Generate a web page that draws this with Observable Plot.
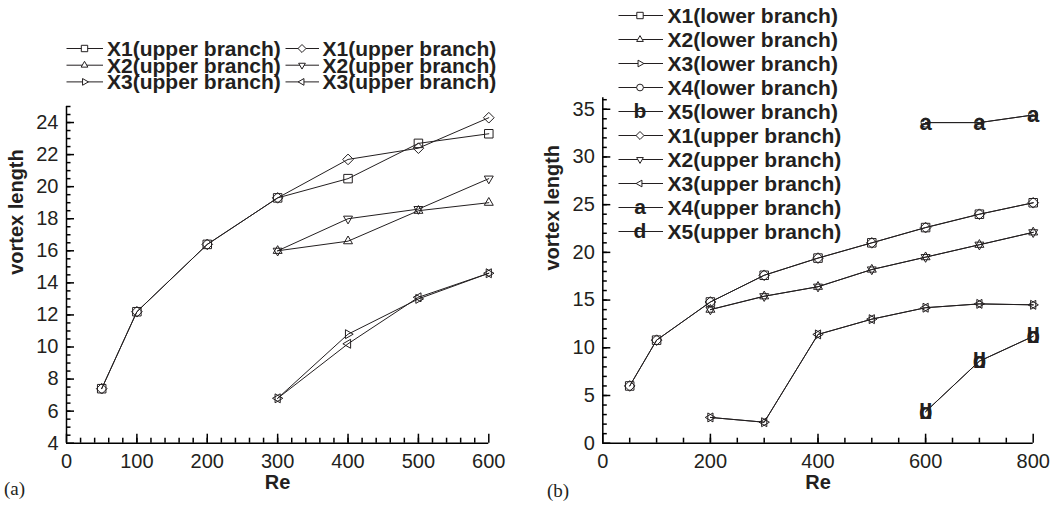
<!DOCTYPE html>
<html>
<head>
<meta charset="utf-8">
<script src="https://cdn.jsdelivr.net/npm/d3@7"></script>
<script src="https://cdn.jsdelivr.net/npm/@observablehq/plot@0.6"></script>
<style>
  body { margin: 0; background: #fff; }
  #fig { position: relative; width: 1061px; height: 506px; overflow: hidden;
         font-family: "Liberation Sans", Arial, Helvetica, sans-serif; color: #231f20; }
  .panel { position: absolute; top: 0; }
  .tag { position: absolute; font-family: "Liberation Serif", "Times New Roman", serif;
         font-size: 19px; line-height: 1; }
  #legend { position: absolute; left: 0; top: 0; pointer-events: none; }
</style>
</head>
<body>
<div id="fig"></div>
<script>
// ---- Panel (a): vortex length vs Re, Re = 50..600 ----
const reA  = [50, 100, 200, 300, 400, 500, 600];
const reA2 = [300, 400, 500, 600];
const aX1square  = [7.4, 12.2, 16.4, 19.3, 20.5, 22.7, 23.3];
const aX1diamond = [7.4, 12.2, 16.4, 19.3, 21.7, 22.4, 24.3];
const aX2up      = [16.0, 16.6, 18.5, 19.0];
const aX2down    = [16.0, 18.0, 18.6, 20.5];
const aX3right   = [6.8, 10.8, 13.0, 14.6];
const aX3left    = [6.8, 10.2, 13.1, 14.6];
const xTicksA = [0, 100, 200, 300, 400, 500, 600];
const yTicksA = [4, 6, 8, 10, 12, 14, 16, 18, 20, 22, 24];

// ---- Panel (b): vortex length vs Re, Re = 50..800 ----
const reB1 = [50, 100, 200, 300, 400, 500, 600, 700, 800];
const reB2 = [200, 300, 400, 500, 600, 700, 800];
const reB4 = [600, 700, 800];
const bX1lower = [6.0, 10.8, 14.8, 17.6, 19.4, 21.0, 22.6, 24.0, 25.2];
const bX1upper = [6.0, 10.8, 14.8, 17.6, 19.4, 21.0, 22.6, 24.0, 25.2];
const bX2lower = [14.0, 15.4, 16.4, 18.2, 19.5, 20.8, 22.1];
const bX2upper = [14.0, 15.4, 16.4, 18.2, 19.5, 20.8, 22.1];
const bX3lower = [2.7, 2.2, 11.4, 13.0, 14.2, 14.6, 14.5];
const bX3upper = [2.7, 2.2, 11.4, 13.0, 14.2, 14.6, 14.5];
const bX4lower = [33.6, 33.6, 34.4];
const bX4upper = [33.6, 33.6, 34.4];
const bX5lower = [3.3, 8.6, 11.2];
const bX5upper = [3.3, 8.6, 11.2];
const xTicksB = [0, 200, 400, 600, 800];
const yTicksB = [0, 5, 10, 15, 20, 25, 30, 35];

// Open triangle pointing in a given direction (degrees, 0 = up)
function triangle(angle) {
  const a = angle * Math.PI / 180;
  return {
    draw(ctx, size) {
      const R = Math.sqrt(size / Math.PI) * 1.1;
      for (let i = 0; i < 3; i++) {
        const t = a + i * 2 * Math.PI / 3;
        const px = R * Math.sin(t), py = -R * Math.cos(t);
        i ? ctx.lineTo(px, py) : ctx.moveTo(px, py);
      }
      ctx.closePath();
    }
  };
}
const triUp = triangle(0), triRight = triangle(90), triDown = triangle(180), triLeft = triangle(270);

const rows = (xs, ys) => xs.map((x, i) => ({x, y: ys[i]}));

const seriesA = [
  {label: "X1(upper branch)", re: reA,  v: aX1square,  symbol: "square",   r: 4.8},
  {label: "X2(upper branch)", re: reA2, v: aX2up,      symbol: triUp,      r: 4.7},
  {label: "X3(upper branch)", re: reA2, v: aX3right,   symbol: triRight,   r: 4.7},
  {label: "X1(upper branch)", re: reA,  v: aX1diamond, symbol: "diamond2", r: 4.8},
  {label: "X2(upper branch)", re: reA2, v: aX2down,    symbol: triDown,    r: 4.7},
  {label: "X3(upper branch)", re: reA2, v: aX3left,    symbol: triLeft,    r: 4.7}
];
const seriesB = [
  {label: "X1(lower branch)", re: reB1, v: bX1lower, symbol: "square",   r: 4.8},
  {label: "X2(lower branch)", re: reB2, v: bX2lower, symbol: triUp,      r: 4.7},
  {label: "X3(lower branch)", re: reB2, v: bX3lower, symbol: triRight,   r: 4.7},
  {label: "X4(lower branch)", re: reB4, v: bX4lower, symbol: "circle",   r: 4.5},
  {label: "X5(lower branch)", re: reB4, v: bX5lower, letter: "b"},
  {label: "X1(upper branch)", re: reB1, v: bX1upper, symbol: "diamond2", r: 4.8},
  {label: "X2(upper branch)", re: reB2, v: bX2upper, symbol: triDown,    r: 4.7},
  {label: "X3(upper branch)", re: reB2, v: bX3upper, symbol: triLeft,    r: 4.7},
  {label: "X4(upper branch)", re: reB4, v: bX4upper, letter: "a"},
  {label: "X5(upper branch)", re: reB4, v: bX5upper, letter: "d"}
];

const INK = "#231f20";
const FONT = "'Liberation Sans', Arial, Helvetica, sans-serif";

function seriesMarks(series) {
  const lines = series.map(s => Plot.line(rows(s.re, s.v), {x: "x", y: "y", stroke: INK, strokeWidth: 1}));
  const pts = series.map(s => s.letter
    ? Plot.text(rows(s.re, s.v), {x: "x", y: "y", text: () => s.letter, fontWeight: "bold", fontSize: 22, fill: INK})
    : Plot.dot(rows(s.re, s.v), {x: "x", y: "y", symbol: s.symbol, r: s.r, fill: "none", stroke: INK, strokeWidth: 1}));
  return [...lines, ...pts];
}

// Tecplot-style frame: left and bottom axis lines; Plot's own axis ticks,
// given a negative size so that they point into the plot area
function axesMarks(xTicks, xMinor, yTicks, yMinor, x0, y0) {
  return [
    Plot.axisX({ticks: xTicks, tickSize: -9, tickPadding: 20, label: null, fontSize: 20, strokeWidth: 1.5, stroke: "#000"}),
    Plot.axisX({ticks: xMinor, tickSize: -5, tickFormat: () => "", label: null, strokeWidth: 1.5, stroke: "#000"}),
    Plot.axisY({ticks: yTicks, tickSize: -8, tickPadding: 16, label: null, fontSize: 20, strokeWidth: 1.5, stroke: "#000"}),
    Plot.axisY({ticks: yMinor, tickSize: -4.5, tickFormat: () => "", label: null, strokeWidth: 1.5, stroke: "#000"}),
    Plot.ruleX([x0], {stroke: "#000", strokeWidth: 1.5}),
    Plot.ruleY([y0], {stroke: "#000", strokeWidth: 1.5})
  ];
}

function titles() {
  return [
    Plot.text(["Re"], {text: d => d, frameAnchor: "bottom", dy: 45.5, fontSize: 20, fontWeight: "bold", fill: INK}),
    Plot.text(["vortex length"], {text: d => d, frameAnchor: "left", rotate: -90, dx: -50, fontSize: 20, fontWeight: "bold", fill: INK})
  ];
}

const style = {fontFamily: FONT, fontSize: "20px", color: INK, background: "transparent", overflow: "visible"};

const plotA = Plot.plot({
  width: 530, height: 506,
  marginLeft: 66, marginRight: 41.7, marginTop: 106, marginBottom: 63.3,
  x: {domain: [0, 600], label: null},
  y: {domain: [4, 25], label: null},
  style,
  marks: [
    ...axesMarks(xTicksA, d3.range(20, 600, 20), yTicksA, d3.range(4.5, 25.01, 0.5), 0, 4),
    ...titles(),
    ...seriesMarks(seriesA)
  ]
});

const plotB = Plot.plot({
  width: 531, height: 506,
  marginLeft: 72.3, marginRight: 28.3, marginTop: 97.3, marginBottom: 63.3,
  x: {domain: [0, 800], label: null},
  y: {domain: [0, 36.2], label: null},
  style,
  marks: [
    ...axesMarks(xTicksB, d3.range(50, 800, 50), yTicksB, d3.range(1, 36.01, 1), 0, 0),
    ...titles(),
    ...seriesMarks(seriesB)
  ]
});

const fig = document.getElementById("fig");
plotA.classList.add("panel"); plotA.style.left = "0px";
plotB.classList.add("panel"); plotB.style.left = "530px";
fig.append(plotA, plotB);

// Panel tags
for (const [t, x, y] of [["(a)", 4, 479], ["(b)", 547, 481]]) {
  const d = document.createElement("div");
  d.className = "tag"; d.textContent = t;
  d.style.left = x + "px"; d.style.top = y + "px";
  fig.append(d);
}

// Legends: line sample + marker + label (kept in a separate layer that has no background)
const svg = d3.select(fig).append("svg").attr("id", "legend").attr("width", 1061).attr("height", 506)
  .style("background", "none");
function legendItem(s, x0, x1, xm, xt, y) {
  const g = svg.append("g");
  g.append("line").attr("x1", x0).attr("x2", x1).attr("y1", y).attr("y2", y)
    .attr("stroke", INK).attr("stroke-width", 1);
  if (s.letter) {
    g.append("text").attr("x", xm).attr("y", y + 6).attr("text-anchor", "middle")
      .attr("font-family", FONT).attr("font-weight", "bold").attr("font-size", 21)
      .attr("fill", INK).text(s.letter);
  } else {
    const type = typeof s.symbol === "string"
      ? {square: d3.symbolSquare, diamond2: d3.symbolDiamond2, circle: d3.symbolCircle}[s.symbol]
      : s.symbol;
    const rr = s.r * 0.75;
    g.append("path").attr("transform", `translate(${xm},${y})`)
      .attr("d", d3.symbol(type, Math.PI * rr * rr)())
      .attr("fill", "white").attr("stroke", INK).attr("stroke-width", 1);
  }
  g.append("text").attr("x", xt).attr("y", y + 7.5)
    .attr("font-family", FONT).attr("font-weight", "bold").attr("font-size", 21)
    .attr("fill", INK).text(s.label);
}
seriesA.forEach((s, i) => {
  const col = Math.floor(i / 3), row = i % 3;
  const y = 48.5 + row * 16.7;
  if (col === 0) legendItem(s, 66.5, 103, 84.5, 107, y);
  else legendItem(s, 285.5, 319, 302, 322.5, y);
});
seriesB.forEach((s, i) => {
  const y = 15.5 + i * 24;
  legendItem(s, 618.5, 663, 640, 667.5, y);
});
</script>
</body>
</html>
